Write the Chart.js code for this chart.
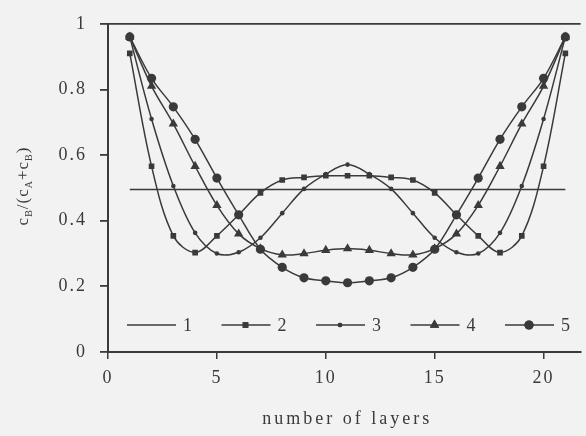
<!DOCTYPE html>
<html>
<head>
<meta charset="utf-8">
<script src="https://cdn.jsdelivr.net/npm/chart.js@4"></script>
<style>
  html, body { margin: 0; padding: 0; background: #f2f2f2; }
  #wrap { width: 586px; height: 436px; }
</style>
</head>
<body>
<div id="wrap"><canvas id="myChart" width="586" height="436"></canvas></div>
<script>
// layer index 1..21
const layers = [1, 2, 3, 4, 5, 6, 7, 8, 9, 10, 11, 12, 13, 14, 15, 16, 17, 18, 19, 20, 21];

const curve1 = [0.495, 0.495, 0.495, 0.495, 0.495, 0.495, 0.495, 0.495, 0.495, 0.495, 0.495,
                0.495, 0.495, 0.495, 0.495, 0.495, 0.495, 0.495, 0.495, 0.495, 0.495];
const curve2 = [0.91, 0.566, 0.354, 0.303, 0.354, 0.418, 0.485, 0.524, 0.532, 0.537, 0.537,
                0.537, 0.532, 0.524, 0.485, 0.418, 0.354, 0.303, 0.354, 0.566, 0.91];
const curve3 = [0.96, 0.71, 0.506, 0.363, 0.30, 0.304, 0.348, 0.423, 0.497, 0.542, 0.571,
                0.542, 0.497, 0.423, 0.348, 0.304, 0.30, 0.363, 0.506, 0.71, 0.96];
const curve4 = [0.96, 0.81, 0.695, 0.566, 0.447, 0.36, 0.315, 0.296, 0.30, 0.31, 0.315,
                0.31, 0.30, 0.296, 0.315, 0.36, 0.447, 0.566, 0.695, 0.81, 0.96];
const curve5 = [0.96, 0.834, 0.747, 0.648, 0.53, 0.418, 0.313, 0.258, 0.226, 0.217, 0.211,
                0.217, 0.226, 0.258, 0.313, 0.418, 0.53, 0.648, 0.747, 0.834, 0.96];

const seriesNames = ['1', '2', '3', '4', '5'];
const xTicks = [0, 5, 10, 15, 20];
const yTicks = [0, 0.2, 0.4, 0.6, 0.8, 1];

const ink = '#3a3a3a';
const serif = "'Liberation Serif', 'DejaVu Serif', serif";

const toPoints = (ys) => ys.map((y, i) => ({ x: layers[i], y: y }));

const makeSet = (label, ys, style, radius) => ({
    label: label,
    data: toPoints(ys),
    borderColor: ink,
    backgroundColor: ink,
    borderWidth: 1.5,
    pointStyle: style,
    pointRadius: radius,
    pointHoverRadius: radius,
    pointBorderWidth: 0,
    tension: 0.35,
    fill: false,
});

const datasets = [
    makeSet(seriesNames[0], curve1, false, 0),
    makeSet(seriesNames[1], curve2, 'rect', 4),
    makeSet(seriesNames[2], curve3, 'circle', 2.3),
    makeSet(seriesNames[3], curve4, 'triangle', 5.4),
    makeSet(seriesNames[4], curve5, 'circle', 4.6),
];
datasets[0].tension = 0;

const bgPlugin = {
    id: 'bg',
    beforeDraw: (chart) => {
        const ctx = chart.ctx;
        ctx.save();
        ctx.fillStyle = '#f2f2f2';
        ctx.fillRect(0, 0, chart.width, chart.height);
        ctx.restore();
        ctx.letterSpacing = '2px';
    }
};

const drawMarker = (ctx, style, r, x, y) => {
    if (!style) return;
    if (Chart.helpers && Chart.helpers.drawPoint) {
        Chart.helpers.drawPoint(ctx, { pointStyle: style, radius: r, rotation: 0, borderWidth: 0 }, x, y);
        ctx.fill();
    }
};

const extrasPlugin = {
    id: 'extras',
    afterDraw: (chart) => {
        const ctx = chart.ctx;
        const area = chart.chartArea;
        ctx.save();
        ctx.fillStyle = ink;
        ctx.strokeStyle = ink;

        // legend inside the plot
        const ly = area.bottom - 27;
        chart.data.datasets.forEach((ds, i) => {
            const x0 = area.left + 19 + i * 94.5;
            ctx.lineWidth = 1.5;
            ctx.beginPath();
            ctx.moveTo(x0, ly);
            ctx.lineTo(x0 + 49, ly);
            ctx.stroke();
            drawMarker(ctx, ds.pointStyle, ds.pointRadius, x0 + 24, ly);
            ctx.font = '18px ' + serif;
            ctx.letterSpacing = '0px';
            ctx.textAlign = 'left';
            ctx.textBaseline = 'middle';
            ctx.fillText(ds.label, x0 + 56, ly + 1);
        });

        // x title
        ctx.font = '18px ' + serif;
        ctx.letterSpacing = '3px';
        ctx.textAlign = 'center';
        ctx.textBaseline = 'middle';
        ctx.fillText('number of layers', (area.left + area.right) / 2 + 3, chart.height - 17);

        // y title with subscripts
        const parts = [['c', 0], ['B', 1], ['/(c', 0], ['A', 1], ['+c', 0], ['B', 1], [')', 0]];
        ctx.letterSpacing = '1px';
        const big = '17px ' + serif, small = '10px ' + serif;
        let total = 0;
        parts.forEach(p => { ctx.font = p[1] ? small : big; total += ctx.measureText(p[0]).width; });
        ctx.translate(28, 186);
        ctx.rotate(-Math.PI / 2);
        ctx.textAlign = 'left';
        ctx.textBaseline = 'alphabetic';
        let cx = -total / 2;
        parts.forEach(p => {
            ctx.font = p[1] ? small : big;
            ctx.fillText(p[0], cx, p[1] ? 4 : 0);
            cx += ctx.measureText(p[0]).width;
        });
        ctx.restore();
    }
};

const ctx = document.getElementById('myChart').getContext('2d');

const chart = new Chart(ctx, {
    type: 'line',
    data: { datasets: datasets },
    options: {
        responsive: false,
        animation: false,
        devicePixelRatio: 1,
        layout: { padding: { top: 16, right: 0, left: 0, bottom: 0 } },
        plugins: {
            legend: { display: false },
            tooltip: { enabled: false },
        },
        scales: {
            x: {
                type: 'linear',
                min: 0,
                max: 21.7,
                afterBuildTicks: (scale) => { scale.ticks = xTicks.map(v => ({ value: v })); },
                afterFit: (scale) => { scale.height = 84; },
                grid: { drawOnChartArea: false, color: ink, tickLength: 7, lineWidth: 1.5 },
                border: { color: ink, width: 2 },
                ticks: {
                    color: ink,
                    padding: 8,
                    maxRotation: 0,
                    font: { family: serif, size: 18 },
                    callback: (v) => String(v),
                },
            },
            y: {
                min: 0,
                max: 1,
                afterBuildTicks: (scale) => { scale.ticks = yTicks.map(v => ({ value: v })); },
                afterFit: (scale) => { scale.width = 108; },
                grid: {
                    color: (c) => (c.tick && c.tick.value === 1 ? ink : 'rgba(0,0,0,0)'),
                    tickColor: ink,
                    tickLength: 8,
                    lineWidth: 1.8,
                },
                border: { color: ink, width: 2 },
                ticks: {
                    color: ink,
                    padding: 13,
                    font: { family: serif, size: 18 },
                    callback: (v) => (v === 0 ? '0' : v === 1 ? '1' : v.toFixed(1)),
                },
            },
        },
    },
    plugins: [bgPlugin, extrasPlugin],
});
</script>
</body>
</html>
